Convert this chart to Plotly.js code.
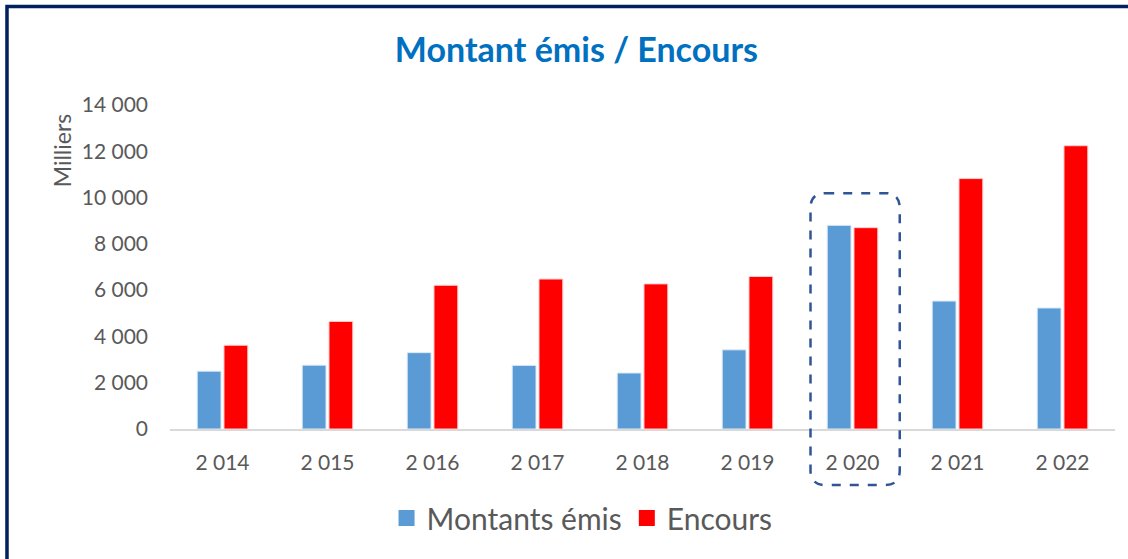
<!DOCTYPE html>
<html>
<head>
<meta charset="utf-8">
<script src="https://cdn.plot.ly/plotly-3.0.1.min.js"></script>
<style>html,body{margin:0;padding:0;background:#fff;}#chart{width:1128px;height:559px;}</style>
</head>
<body>
<div id="chart"></div>
<script>
const categories = ["2 014","2 015","2 016","2 017","2 018","2 019","2 020","2 021","2 022"];
const montantsEmis = [2500, 2760, 3300, 2750, 2420, 3420, 8800, 5530, 5230];
const encours = [3620, 4650, 6210, 6480, 6270, 6590, 8700, 10820, 12240];
const seriesNames = ["Montants émis", "Encours"];
const seriesColors = ["#5B9BD5", "#FF0000"];
const yTicks = [0, 2000, 4000, 6000, 8000, 10000, 12000, 14000];

const FONT = "Lato, 'Open Sans', sans-serif";
const GREY = "#595959";

const traces = [
  {type:"bar", name:seriesNames[0], x:categories, y:montantsEmis, showlegend:false,
   marker:{color:seriesColors[0], line:{color:"#DDEBF7", width:1}}},
  {type:"bar", name:seriesNames[1], x:categories, y:encours, showlegend:false,
   marker:{color:seriesColors[1], line:{color:"#FFD0D0", width:1}}},
  // legend proxies (no data) to get larger square swatches
  {type:"scatter", mode:"markers", name:seriesNames[0], x:[null], y:[null],
   marker:{symbol:"square", size:16, color:seriesColors[0]}},
  {type:"scatter", mode:"markers", name:seriesNames[1], x:[null], y:[null],
   marker:{symbol:"square", size:16, color:seriesColors[1]}}
];

const layout = {
  width:1128, height:559,
  margin:{l:170, r:13, t:105, b:130},
  paper_bgcolor:"#fff", plot_bgcolor:"#fff",
  separators:", ",
  font:{family:FONT, color:GREY, size:21},
  title:{text:"<b>Montant émis / Encours</b>", x:0.511, xref:"container", y:1-50/559, yref:"container",
         xanchor:"center", yanchor:"middle", font:{family:FONT, size:34, color:"#0070C0"}},
  barmode:"group", bargap:0.49, bargroupgap:0.11,
  xaxis:{type:"category", showgrid:false, zeroline:false, showline:true, linecolor:"#D9D9D9", linewidth:2,
         ticks:"", ticklabelstandoff:14, tickfont:{size:21, color:GREY}},
  yaxis:{range:[0,14000], tickvals:yTicks, showgrid:false, zeroline:false, showline:false, ticks:"",
         tickformat:",d", ticklabelstandoff:21, tickfont:{size:21, color:GREY}},
  showlegend:true,
  legend:{orientation:"h", xref:"container", yref:"container", x:0.516, y:1-518/559, xanchor:"center", yanchor:"middle",
          font:{size:30, color:GREY}, itemwidth:30, traceorder:"normal"},
  annotations:[
    {text:"Milliers", xref:"paper", yref:"paper", x:-0.114, y:0.861, textangle:-90, showarrow:false,
     xanchor:"center", yanchor:"middle", font:{size:23, color:GREY}}
  ],
  shapes:[
    {type:"path", xref:"paper", yref:"paper",
     path:"M -0.1725 -0.5 L -0.1725 1.304 L 1.2 1.304", line:{color:"#002060", width:3.5}},
    {type:"path", xref:"x", yref:"paper",
     path:"M 5.74 0.728 L 6.31 0.728 Q 6.45 0.728 6.45 0.682 L 6.45 -0.127 Q 6.45 -0.173 6.31 -0.173 L 5.74 -0.173 Q 5.6 -0.173 5.6 -0.127 L 5.6 0.682 Q 5.6 0.728 5.74 0.728 Z",
     line:{color:"#2F5597", width:2.5, dash:"dash"}}
  ]
};

Plotly.newPlot("chart", traces, layout, {displayModeBar:false, staticPlot:true});
</script>
</body>
</html>
